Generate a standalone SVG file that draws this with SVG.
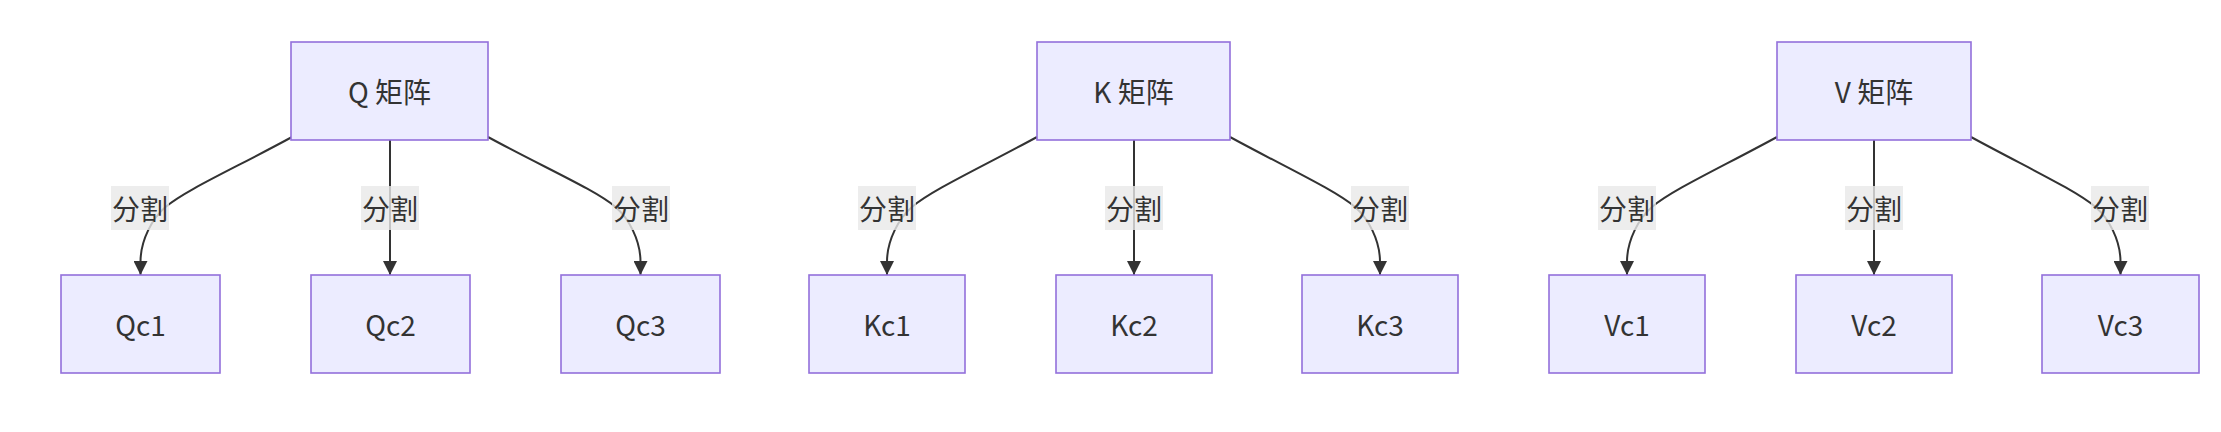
<svg xmlns="http://www.w3.org/2000/svg" width="2221" height="432" viewBox="0 0 2221 432">
<style>
.node rect{fill:#ECECFF;stroke:#9370DB;stroke-width:1.6}
.node text,.lbl text{font-family:"Noto Sans CJK SC","Noto Sans",sans-serif;font-size:28px;fill:#333;text-anchor:middle;dominant-baseline:central}
.edge{fill:none;stroke:#333;stroke-width:2;marker-end:url(#arrow)}
.lbl rect{fill:#e8e8e8;fill-opacity:0.8}
</style>
<defs>
<marker id="arrow" viewBox="0 0 10 10" refX="10" refY="5" markerUnits="userSpaceOnUse" markerWidth="14" markerHeight="14" orient="auto">
<path d="M0,0 L10,5 L0,10 z" fill="#333"/>
</marker>
</defs>
<rect width="2221" height="432" fill="#fff"/>
<g id="connectors">
<path class="edge" d="M292,137 C235,168 185.5,190 165.5,207 C152.5,218 140.5,240 140.5,262 L140.5,275"/>
<path class="edge" d="M390,140 L390,275"/>
<path class="edge" d="M488,137 C545,168 595.5,190 615.5,207 C628.5,218 640.5,240 640.5,262 L640.5,275"/>
<path class="edge" d="M1037,137 C980,168 932,190 912,207 C899,218 887,240 887,262 L887,275"/>
<path class="edge" d="M1134,140 L1134,275"/>
<path class="edge" d="M1230,137 C1287,168 1335,190 1355,207 C1368,218 1380,240 1380,262 L1380,275"/>
<path class="edge" d="M1777,137 C1720,168 1672,190 1652,207 C1639,218 1627,240 1627,262 L1627,275"/>
<path class="edge" d="M1874,140 L1874,275"/>
<path class="edge" d="M1971,137 C2028,168 2075.5,190 2095.5,207 C2108.5,218 2120.5,240 2120.5,262 L2120.5,275"/>
<g class="lbl"><rect x="111" y="186" width="58" height="44"/><text x="140" y="208">分割</text></g>
<g class="lbl"><rect x="361" y="186" width="58" height="44"/><text x="390" y="208">分割</text></g>
<g class="lbl"><rect x="612" y="186" width="58" height="44"/><text x="641" y="208">分割</text></g>
<g class="lbl"><rect x="858" y="186" width="58" height="44"/><text x="887" y="208">分割</text></g>
<g class="lbl"><rect x="1105" y="186" width="58" height="44"/><text x="1134" y="208">分割</text></g>
<g class="lbl"><rect x="1351" y="186" width="58" height="44"/><text x="1380" y="208">分割</text></g>
<g class="lbl"><rect x="1598" y="186" width="58" height="44"/><text x="1627" y="208">分割</text></g>
<g class="lbl"><rect x="1845" y="186" width="58" height="44"/><text x="1874" y="208">分割</text></g>
<g class="lbl"><rect x="2091" y="186" width="58" height="44"/><text x="2120" y="208">分割</text></g>
</g>
<g id="Q" class="node"><rect x="291" y="42" width="197" height="98"/><text x="389.5" y="91">Q 矩阵</text></g>
<g id="Qc1" class="node"><rect x="61" y="275" width="159" height="98"/><text x="140.5" y="324">Qc1</text></g>
<g id="Qc2" class="node"><rect x="311" y="275" width="159" height="98"/><text x="390.5" y="324">Qc2</text></g>
<g id="Qc3" class="node"><rect x="561" y="275" width="159" height="98"/><text x="640.5" y="324">Qc3</text></g>
<g id="K" class="node"><rect x="1037" y="42" width="193" height="98"/><text x="1133.5" y="91">K 矩阵</text></g>
<g id="Kc1" class="node"><rect x="809" y="275" width="156" height="98"/><text x="887" y="324">Kc1</text></g>
<g id="Kc2" class="node"><rect x="1056" y="275" width="156" height="98"/><text x="1134" y="324">Kc2</text></g>
<g id="Kc3" class="node"><rect x="1302" y="275" width="156" height="98"/><text x="1380" y="324">Kc3</text></g>
<g id="V" class="node"><rect x="1777" y="42" width="194" height="98"/><text x="1874" y="91">V 矩阵</text></g>
<g id="Vc1" class="node"><rect x="1549" y="275" width="156" height="98"/><text x="1627" y="324">Vc1</text></g>
<g id="Vc2" class="node"><rect x="1796" y="275" width="156" height="98"/><text x="1874" y="324">Vc2</text></g>
<g id="Vc3" class="node"><rect x="2042" y="275" width="157" height="98"/><text x="2120.5" y="324">Vc3</text></g>
</svg>
